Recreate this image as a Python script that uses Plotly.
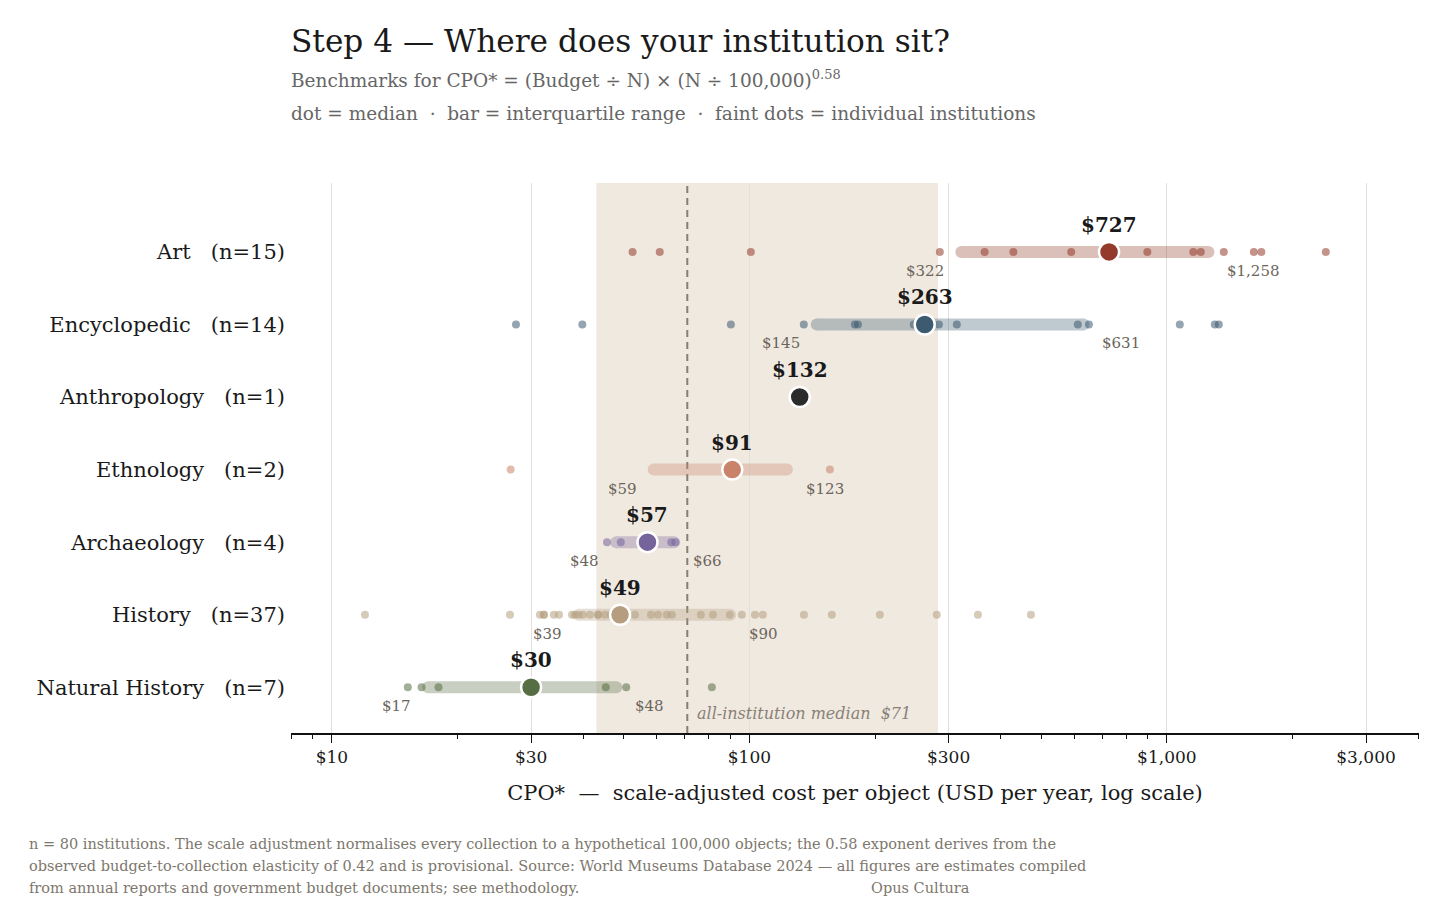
import numpy as np
import plotly.graph_objects as go

# categories, top to bottom
categories = ["Art", "Encyclopedic", "Anthropology", "Ethnology",
              "Archaeology", "History", "Natural History"]
counts = [15, 14, 1, 2, 4, 37, 7]
colors = ["#933a2a", "#3c5a70", "#2b2b2b", "#c8836a",
          "#76639b", "#b49e7f", "#566e43"]

# benchmark summary per category (USD per year)
medians = [727, 263, 132, 91, 57, 49, 30]
q1s = [322, 145, None, 59, 48, 39, 17]
q3s = [1258, 631, None, 123, 66, 90, 48]

# individual institutions
art = [52.5, 61, 100.8, 285.9, 366, 428.9, 590, 727, 898, 1157,
       1206, 1369, 1616, 1684, 2403]
encyclopedic = [27.6, 39.8, 90.3, 135, 178.9, 182, 247.7, 284.4, 314,
                612, 650.6, 1074, 1303, 1332]
anthropology = [132]
ethnology = [26.8, 155.9]
archaeology = [45.6, 49.2, 65.0, 66.5]
history = [12.0, 26.7, 31.5, 32.2, 32.2, 34.0, 35.0, 37.6, 38.2, 39.0,
           39.9, 41.5, 43.4, 43.4, 45.1, 46.6, 47.4, 48.2, 49.0, 50.1,
           53.2, 58.1, 60.4, 63.4, 65.2, 76.5, 81.8, 89.8, 95.9, 103.1,
           107.7, 135.1, 157.6, 205.4, 281.2, 352.7, 472.5]
natural_history = [15.2, 16.4, 18.0, 30, 45.3, 50.7, 81.3]
institutions = [art, encyclopedic, anthropology, ethnology,
                archaeology, history, natural_history]

# all-institution benchmark
all_median = 71
all_q1 = 43
all_q3 = 283

x_ticks = [10, 30, 100, 300, 1000, 3000]
x_ticktext = ["$10", "$30", "$100", "$300", "$1,000", "$3,000"]
x_minor = [8, 9, 20, 40, 50, 60, 70, 80, 90, 200, 400, 500, 600, 700,
           800, 900, 2000, 4000]

FONT = "DejaVu Serif"
NB = "\u00a0"

fig = go.Figure()

fig.add_shape(type="rect", xref="x", yref="paper", x0=all_q1, x1=all_q3,
              y0=0, y1=1, fillcolor="#f0e9e0", line_width=0, layer="below")
fig.add_shape(type="line", xref="x", yref="paper", x0=all_median,
              x1=all_median, y0=0, y1=1, layer="below",
              line=dict(color="#877e74", width=2, dash="7px,5px"))

for i, cat in enumerate(categories):
    col = colors[i]
    # IQR bar with round ends
    if q1s[i] is not None:
        fig.add_trace(go.Scatter(
            x=[q1s[i], q3s[i]], y=[i, i], mode="lines+markers",
            line=dict(color=col, width=12),
            marker=dict(size=12, color=col, line_width=0),
            opacity=0.32, hoverinfo="skip", showlegend=False))
    # faint dots
    pts = institutions[i]
    fig.add_trace(go.Scatter(
        x=pts, y=[i] * len(pts), mode="markers",
        marker=dict(size=8, color=col, opacity=0.55, line_width=0),
        hoverinfo="x", showlegend=False))
    # median dot
    fig.add_trace(go.Scatter(
        x=[medians[i]], y=[i], mode="markers",
        marker=dict(size=20, color=col, line=dict(color="white", width=2.5)),
        hoverinfo="x", showlegend=False))

    fig.add_annotation(x=np.log10(medians[i]), y=i, xref="x", yref="y",
                       text=f"<b>${medians[i]:,.0f}</b>", showarrow=False,
                       xanchor="center", yanchor="bottom", yshift=13,
                       font=dict(family=FONT, size=20, color="#1a1a1a"))
    if q1s[i] is not None:
        fig.add_annotation(x=np.log10(q1s[i]), y=i, xref="x", yref="y",
                           text=f"${q1s[i]:,.0f}", showarrow=False,
                           xanchor="right", yanchor="top",
                           xshift=-15, yshift=-8,
                           font=dict(family=FONT, size=15, color="#6b655c"))
        fig.add_annotation(x=np.log10(q3s[i]), y=i, xref="x", yref="y",
                           text=f"${q3s[i]:,.0f}", showarrow=False,
                           xanchor="left", yanchor="top",
                           xshift=17, yshift=-8,
                           font=dict(family=FONT, size=15, color="#6b655c"))

fig.add_annotation(x=np.log10(all_median), y=0, xref="x", yref="paper",
                   text=f"<i>all-institution median{NB}{NB}${all_median}</i>",
                   showarrow=False, xanchor="left", yanchor="bottom",
                   xshift=8, yshift=8,
                   font=dict(family=FONT, size=16, color="#8a8178"))


def px_x(px):
    return (px - 291) / 1128


def px_y(py):
    return (733 - py) / 550


fig.add_annotation(x=px_x(289), y=px_y(41), xref="paper", yref="paper",
                   text="Step 4 — Where does your institution sit?",
                   showarrow=False, xanchor="left", yanchor="middle",
                   font=dict(family=FONT, size=31.2, color="#1a1a1a"))
fig.add_annotation(x=px_x(289), y=px_y(79), xref="paper", yref="paper",
                   text="Benchmarks for CPO* = (Budget ÷ N) × (N ÷ 100,000)<sup>0.58</sup>",
                   showarrow=False, xanchor="left", yanchor="middle",
                   font=dict(family=FONT, size=18.5, color="#666666"))
fig.add_annotation(x=px_x(289), y=px_y(114), xref="paper", yref="paper",
                   text=f"dot = median {NB}·{NB} bar = interquartile range {NB}·{NB} faint dots = individual institutions",
                   showarrow=False, xanchor="left", yanchor="middle",
                   font=dict(family=FONT, size=18.5, color="#666666"))

footer = [
    "n = 80 institutions. The scale adjustment normalises every collection to a hypothetical 100,000 objects; the 0.58 exponent derives from the",
    "observed budget-to-collection elasticity of 0.42 and is provisional. Source: World Museums Database 2024 — all figures are estimates compiled",
    "from annual reports and government budget documents; see methodology.",
]
for k, line in enumerate(footer):
    fig.add_annotation(x=px_x(27), y=px_y(844 + 22 * k), xref="paper",
                       yref="paper", text=line, showarrow=False,
                       xanchor="left", yanchor="middle",
                       font=dict(family=FONT, size=14.5, color="#7d776d"))
fig.add_annotation(x=px_x(920), y=px_y(888), xref="paper", yref="paper",
                   text="Opus Cultura", showarrow=False, xanchor="center",
                   yanchor="middle",
                   font=dict(family=FONT, size=14.5, color="#7d776d"))

ylabels = [f"{c}{NB*3}(n={n})" for c, n in zip(categories, counts)]

fig.update_layout(
    width=1448, height=909,
    margin=dict(l=283, r=37, t=175, b=184),
    paper_bgcolor="white", plot_bgcolor="white",
    font=dict(family=FONT, color="#1a1a1a"),
    showlegend=False,
    xaxis=dict(
        type="log", range=[0.902, 3.604],
        tickmode="array", tickvals=x_ticks, ticktext=x_ticktext,
        ticks="outside", ticklen=8, tickwidth=1.2, tickcolor="#111",
        tickfont=dict(family=FONT, size=17, color="#1a1a1a"),
        showgrid=True, gridcolor="#e4dfd7", gridwidth=1,
        showline=True, linecolor="#111", linewidth=1.6,
        zeroline=False,
        minor=dict(tickmode="array", tickvals=x_minor, ticks="outside",
                   ticklen=4, tickwidth=1, tickcolor="#111", showgrid=False),
        title=dict(text=f"CPO*{NB}{NB}—{NB}{NB}scale-adjusted cost per object (USD per year, log scale)",
                   font=dict(family=FONT, size=21, color="#1a1a1a"),
                   standoff=19),
    ),
    yaxis=dict(
        range=[6.63, -0.95], tickmode="array",
        tickvals=list(range(len(categories))), ticktext=ylabels,
        showgrid=False, zeroline=False, showline=False, ticks="",
        ticklabelstandoff=5,
        tickfont=dict(family=FONT, size=21, color="#1a1a1a"),
    ),
)

fig.write_html("out.html")
